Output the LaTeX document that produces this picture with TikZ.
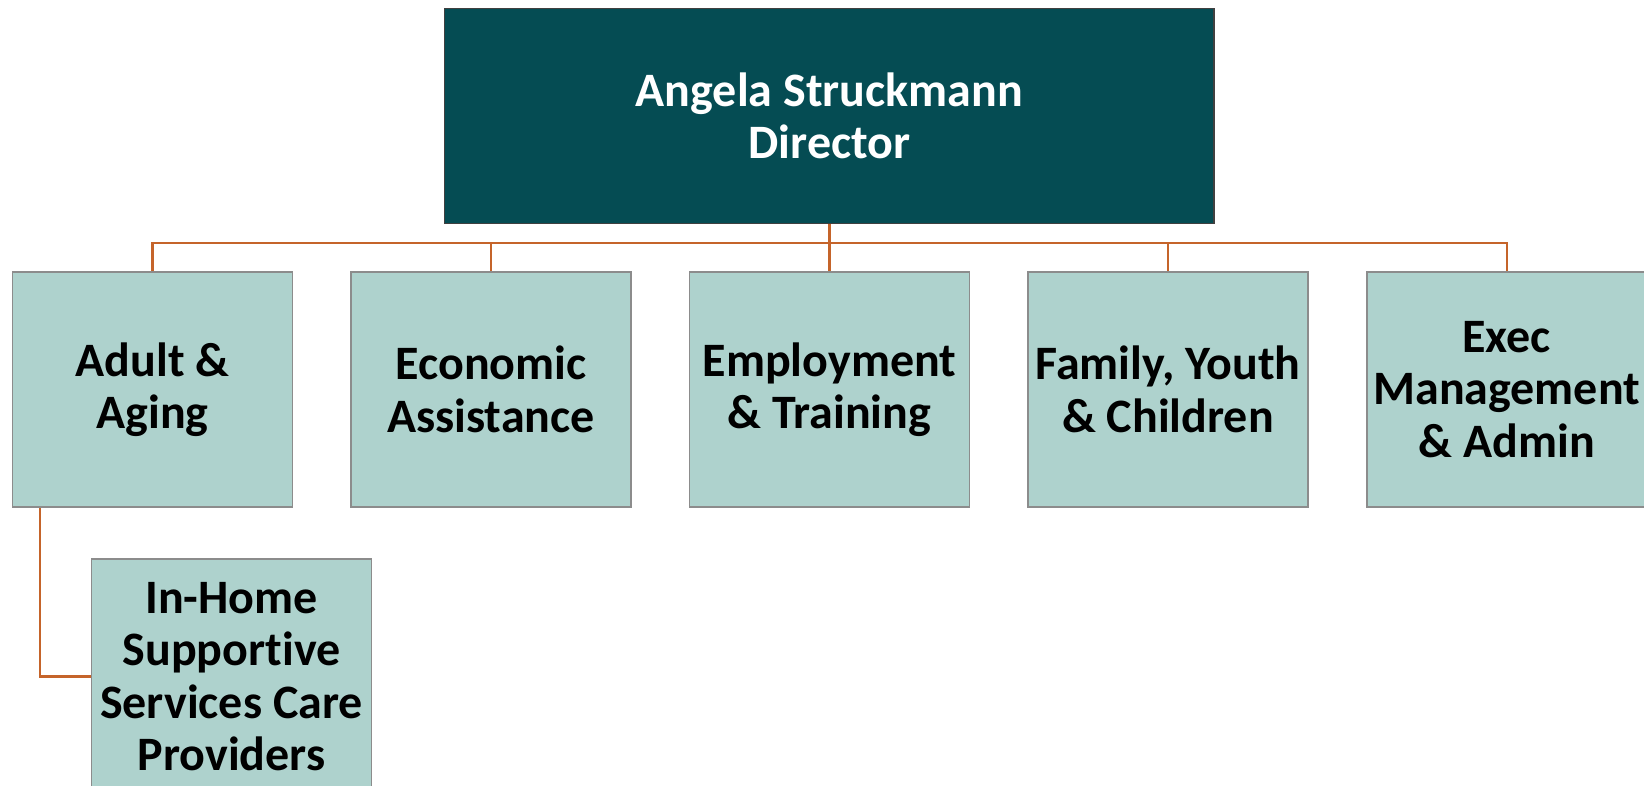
\documentclass[tikz,border=0pt]{standalone}
\usepackage{fontspec}
\setmainfont{Carlito}[Ligatures=NoCommon]
\usetikzlibrary{positioning}

\definecolor{dirteal}{RGB}{5,76,83}
\definecolor{unitteal}{RGB}{174,210,205}
\definecolor{linkorange}{RGB}{197,100,42}

\tikzset{
  dirbox/.style={rectangle,draw=black!75,line width=0.8pt,fill=dirteal,text=white,
    minimum width=384.8pt,minimum height=107.5pt,align=center,
    font=\bfseries\fontsize{24}{26.2}\selectfont},
  unitbox/.style={rectangle,draw=black!45,line width=0.8pt,fill=unitteal,text=black,
    minimum width=140pt,minimum height=117.5pt,align=center,inner sep=0pt,
    font=\bfseries\fontsize{24}{26.2}\selectfont},
  link/.style={draw=linkorange,line width=1.1pt}
}

\begin{document}
\begin{tikzpicture}[x=0.5pt,y=-0.5pt]
\useasboundingbox (0,0) rectangle (1644,786);
\clip (0,0) rectangle (1644,786);

% director
\node[dirbox] (dir) at (829.4,115.9) {Angela Struckmann\\Director};

% divisions
\node[unitbox] (adult) at (152.5,389.5) {Adult \&\\Aging};
\node[unitbox] (econ) at (491,389.5) {Economic\\Assistance};
\node[unitbox] (empl) at (829.4,389.5) {Employment\\\& Training};
\node[unitbox] (fam) at (1168,389.5) {Family, Youth\\\& Children};
\node[unitbox] (exec) at (1506.7,389.5) {Exec\\Management\\\& Admin};

% sub unit
\node[unitbox] (ihss) at (231.5,676.5) {In-Home\\Supportive\\Services Care\\Providers};

% connectors
\coordinate (bus) at (829.4,243.3);
\draw[link] (dir.south) -- (bus);
\foreach \u in {adult,econ,empl,fam,exec}
  \draw[link] (bus) -| (\u.north);
\draw[link] ([xshift=14pt]adult.south west) |- (ihss.west);

\end{tikzpicture}
\end{document}
